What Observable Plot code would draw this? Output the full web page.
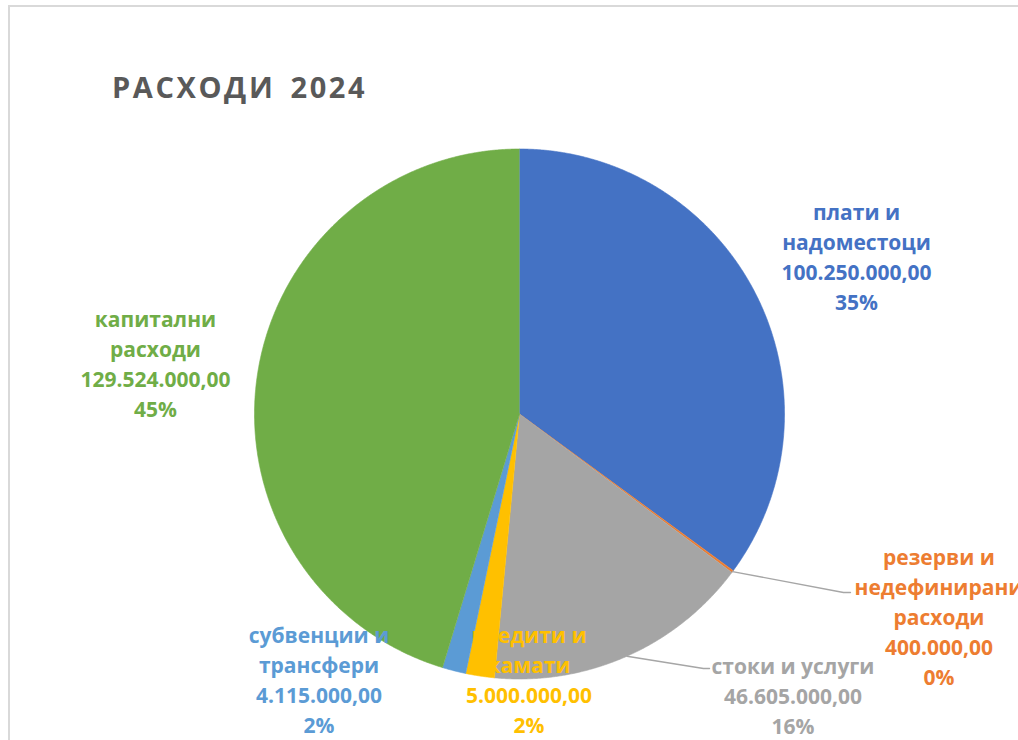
<!DOCTYPE html>
<html><head><meta charset="utf-8">
<script src="https://cdn.jsdelivr.net/npm/d3@7"></script>
<script src="https://cdn.jsdelivr.net/npm/@observablehq/plot@0.6"></script>
<style>
html,body{margin:0;padding:0;background:#fff;overflow:hidden;width:1018px;height:740px}
#wrap{position:relative;width:1018px;height:740px;overflow:hidden}
#frame{position:absolute;left:8px;top:5px;width:1100px;height:800px;border-left:2px solid #d9d9d9;border-top:2px solid #d9d9d9}
#title{position:absolute;left:112px;top:72px;font-family:"Open Sans",sans-serif;font-weight:bold;font-size:29px;line-height:29px;letter-spacing:2.6px;word-spacing:5px;color:#595959;white-space:pre}
#chart{position:absolute;left:0;top:120px}
</style></head><body>
<div id="wrap"><div id="frame"></div><div id="title">РАСХОДИ 2024</div><div id="chart"></div></div>
<script>
// ---- data ----
const categories = ["плати и надоместоци", "резерви и недефинирани расходи", "стоки и услуги", "кредити и камати", "субвенции и трансфери", "капитални расходи"];
const nameLines = ["плати и\nнадоместоци", "резерви и\nнедефинирани\nрасходи", "стоки и услуги", "кредити и\nкамати", "субвенции и\nтрансфери", "капитални\nрасходи"];
const values = [100250000, 400000, 46605000, 5000000, 4115000, 129524000];
const percentLabels = ["35%", "0%", "16%", "2%", "2%", "45%"];
const colors = ["#4472C4", "#ED7D31", "#A5A5A5", "#FFC000", "#5B9BD5", "#70AD47"];

// ---- layout (pie radius units, origin at pie centre, y down) ----
const labelAt = [[1.2717, -0.3943], [1.583, 1.0245], [1.0321, 1.2094], [0.0358, 1.2019], [-0.7566, 1.2019], [-1.3736, 0.0132]];
const leaderBends = {1: [[1.2226, 0.6736], [1.249, 0.6736]], 2: [[0.6943, 0.9604], [0.717, 0.9604]]};

const R = 265, W = 1018, H = 620, CX = 519, CY = 293.5;
const fmt = d3.formatLocale({decimal: ",", thousands: ".", grouping: [3], currency: ["", ""]}).format(",.2f");

const arcs = d3.pie().sort(null).value(d => d)(values);
const slicePts = [];
arcs.forEach((a, i) => {
  slicePts.push({name: categories[i], x: 0, y: 0});
  const n = Math.max(2, Math.ceil((a.endAngle - a.startAngle) / (Math.PI / 720)));
  for (let k = 0; k <= n; k++) {
    const t = a.startAngle + (a.endAngle - a.startAngle) * k / n;
    slicePts.push({name: categories[i], x: Math.sin(t), y: -Math.cos(t)});
  }
});

const leaderPts = [];
Object.entries(leaderBends).forEach(([i, bends]) => {
  const a = arcs[+i], m = (a.startAngle + a.endAngle) / 2;
  leaderPts.push({name: categories[i], x: Math.sin(m), y: -Math.cos(m)});
  bends.forEach(([x, y]) => leaderPts.push({name: categories[i], x, y}));
});

const labels = categories.map((c, i) => ({
  name: c,
  x: labelAt[i][0], y: labelAt[i][1],
  text: nameLines[i] + "\n" + fmt(values[i]) + "\n" + percentLabels[i]
}));

const chart = Plot.plot({
  width: W, height: H, margin: 0,
  x: {domain: [-CX / R, (W - CX) / R], range: [0, W], axis: null},
  y: {domain: [-CY / R, (H - CY) / R], range: [0, H], axis: null},
  color: {domain: categories, range: colors},
  style: {fontFamily: "'Open Sans', sans-serif", background: "transparent", overflow: "visible", maxWidth: "none"},
  marks: [
    Plot.line(slicePts, {x: "x", y: "y", z: "name", fill: "name", stroke: "name", strokeWidth: 0.6, curve: "linear"}),
    Plot.line(leaderPts, {x: "x", y: "y", z: "name", stroke: "#A6A6A6", strokeWidth: 1.4}),
    Plot.text(labels, {x: "x", y: "y", text: "text", fill: "name", fontSize: 21, fontWeight: "bold",
      lineHeight: 30 / 21, lineAnchor: "bottom", textAnchor: "middle"})
  ]
});
document.getElementById("chart").appendChild(chart);
</script>
</body></html>
